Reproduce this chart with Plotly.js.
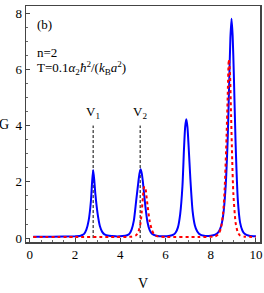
<!DOCTYPE html>
<html><head><meta charset="utf-8">
<script src="https://cdn.plot.ly/plotly-3.0.1.min.js"></script>
<style>html,body{margin:0;padding:0;background:#fff}#c{width:264px;height:293px}</style>
</head><body><div id="c"></div>
<script>
// Blue solid curve
const blueX = [0.15,1.0,2.0,2.2,2.3,2.4,2.5,2.6,2.7,2.75,2.8,2.85,2.9,3.0,3.1,3.2,3.3,3.5,3.8,4.1,4.3,4.4,4.5,4.6,4.7,4.8,4.85,4.9,4.95,5.0,5.1,5.2,5.3,5.4,5.6,5.9,6.2,6.35,6.45,6.55,6.65,6.75,6.82,6.87,6.92,6.97,7.02,7.1,7.2,7.3,7.4,7.5,7.7,8.0,8.2,8.35,8.45,8.55,8.65,8.75,8.82,8.87,8.92,8.97,9.02,9.1,9.2,9.3,9.4,9.5,9.7,10.0];
const blueY = [0.05,0.05,0.06,0.07,0.1,0.15,0.3,0.62,1.3,1.95,2.42,2.05,1.55,0.85,0.42,0.22,0.13,0.08,0.06,0.07,0.1,0.15,0.3,0.62,1.3,2.0,2.3,2.45,2.3,2.0,1.2,0.58,0.28,0.15,0.08,0.06,0.08,0.12,0.2,0.38,0.85,1.85,3.2,3.95,4.22,3.95,3.3,2.1,0.95,0.45,0.24,0.14,0.08,0.08,0.12,0.22,0.4,0.8,1.7,3.5,5.6,7.1,7.8,7.2,5.9,3.4,1.35,0.55,0.27,0.15,0.08,0.06];
// Red dotted curve
const redX = [0.15,2.0,3.5,4.5,4.7,4.8,4.9,4.95,5.0,5.05,5.1,5.15,5.2,5.3,5.4,5.5,5.65,6.0,7.5,8.2,8.35,8.45,8.55,8.62,8.7,8.75,8.8,8.85,8.9,8.95,9.0,9.1,9.2,9.3,9.5,10.0];
const redY = [0.04,0.04,0.04,0.05,0.1,0.22,0.55,0.95,1.45,1.8,1.82,1.55,1.2,0.6,0.28,0.12,0.06,0.04,0.04,0.06,0.15,0.35,0.9,1.8,3.6,5.0,6.35,5.9,4.4,2.8,1.6,0.55,0.2,0.09,0.05,0.04];
// Vertical marker lines and labels
const markerX = [2.8, 4.88];
const markerTop = 4.0;
const markerLabels = ['V<sub>1</sub>', 'V<sub>2</sub>'];
const labelY = 4.45;
const xTicks = [0,2,4,6,8,10];
const yTicks = [0,2,4,6,8];

const serif = 'Liberation Serif, DejaVu Serif, serif';
const traces = [];
markerX.forEach(x => traces.push({x:[x,x], y:[0,markerTop], mode:'lines',
  line:{color:'#000', width:1, dash:'3px,2px'}, hoverinfo:'skip', showlegend:false}));
traces.push({x:blueX, y:blueY, mode:'lines', line:{color:'#0000ff', width:2, shape:'spline', smoothing:0.6}, showlegend:false});
traces.push({x:redX, y:redY, mode:'lines', line:{color:'#ff0000', width:2, dash:'dot', shape:'spline', smoothing:0.6}, showlegend:false});

const ann = markerX.map((x,i) => ({x:x, y:labelY, xref:'x', yref:'y', text:markerLabels[i], showarrow:false,
  font:{family:serif, size:13, color:'#000'}}));
const txt = (x, y, t, s, xa) => ({x:x, y:y, xref:'paper', yref:'paper', text:t, showarrow:false,
  xanchor:xa||'left', yanchor:'middle', font:{family:serif, size:s, color:'#000'}});
ann.push(txt(0.04, 0.923, '(b)', 13));
ann.push(txt(0.04, 0.805, 'n=2', 13));
ann.push(txt(0.04, 0.737, 'T=0.1<i>α</i><sub>2</sub><i>ħ</i><sup>2</sup>/(<i>k</i><sub>B</sub><i>a</i><sup>2</sup>)', 13));
ann.push(txt(-0.092, 0.5, 'G', 14, 'center'));
ann.push(txt(0.5, -0.175, 'V', 14, 'center'));

const layout = {
  width:264, height:293, margin:{l:26, r:4, t:6, b:51},
  paper_bgcolor:'#fff', plot_bgcolor:'#fff',
  xaxis:{range:[-0.17,10.18], tickvals:xTicks, ticks:'inside', ticklen:4, tickcolor:'#444',
    minor:{dtick:0.5, ticks:'inside', ticklen:2, tickcolor:'#666'},
    showgrid:false, zeroline:false, showline:true, mirror:true, linecolor:'#444', linewidth:1.5,
    tickfont:{family:serif, size:13, color:'#000'}},
  yaxis:{range:[-0.14,8.25], tickvals:yTicks, ticks:'inside', ticklen:4, tickcolor:'#444',
    minor:{dtick:0.5, ticks:'inside', ticklen:2, tickcolor:'#666'},
    showgrid:false, zeroline:false, showline:true, mirror:true, linecolor:'#444', linewidth:1.5,
    tickfont:{family:serif, size:13, color:'#000'}},
  annotations:ann
};
Plotly.newPlot('c', traces, layout, {staticPlot:true, displayModeBar:false});
</script></body></html>
